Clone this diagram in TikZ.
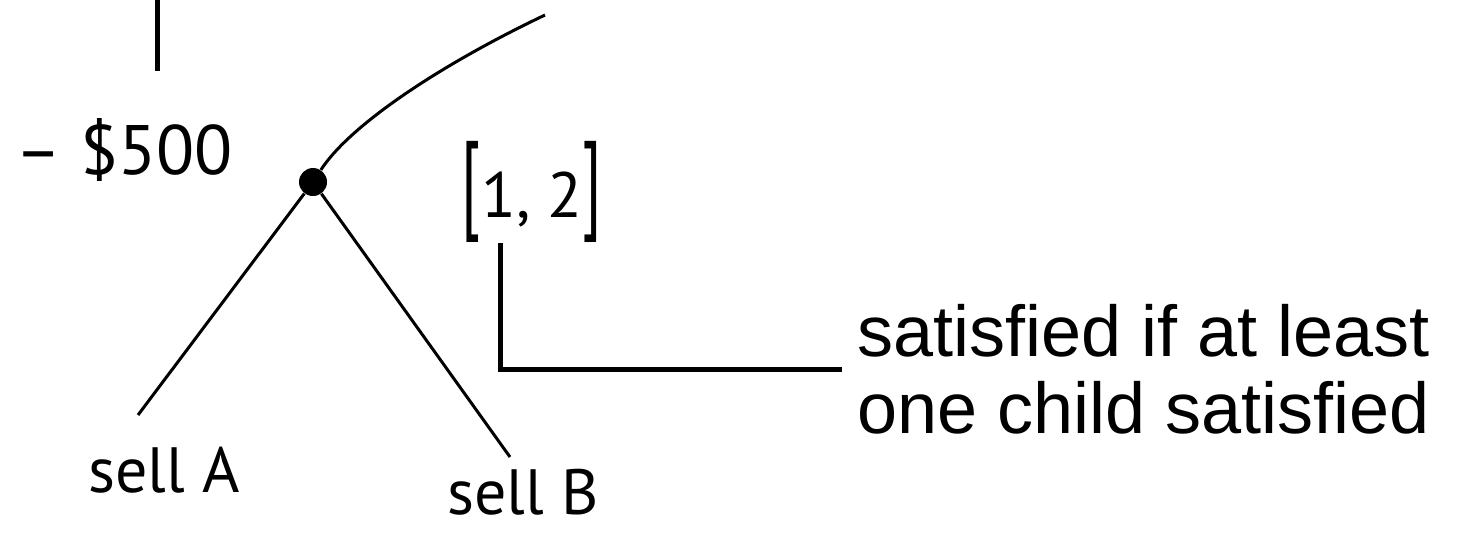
\documentclass[tikz,border=0pt]{standalone}
\usepackage{fontspec}
\setmainfont{Liberation Sans}
\newfontfamily\handfont{PT Sans}
\usepackage{tikz}
\usetikzlibrary{calc,positioning}
\tikzset{
  br/.style={line width=1.5pt,black},
  ln/.style={line width=2.5pt,black},
  dt/.style={circle,fill=black,minimum size=14pt,inner sep=0pt},
  hw/.style={font=\handfont\fontsize{32}{36}\selectfont,inner sep=0pt},
  nt/.style={font=\fontsize{36}{38.5}\selectfont,align=left,inner xsep=7.5pt,inner ysep=0pt}
}

\begin{document}
\begin{tikzpicture}[x=0.5pt,y=-0.5pt]
\useasboundingbox (0,0) rectangle (1460,532);
% stub from above
\coordinate (T1) at (157,0); \coordinate (T2) at (157,71);
\draw[ln] (T1)--(T2);
\node[hw,font=\handfont\fontsize{35}{38}\selectfont] (cost) at (124,150) {– \$500};
% or-node and its edges
\node[dt] (or) at (313,182) {};
\coordinate (up) at (545,15);
\coordinate (eA) at (138,415); \coordinate (eB) at (510,457);
\draw[br] (or) .. controls (350,125) and (440,65) .. (up);
\draw[br] (or)--(eA);
\draw[br] (or)--(eB);
\node[hw] (sA) at (164,470) {sell A};
\node[hw] (sB) at (523,492) {sell B};
\node[hw] (rng) at (532,192) {\scalebox{1}[1.7]{[}1, 2\scalebox{1}[1.7]{]}};
% note
\node[nt,anchor=west] (txt) at (842,369) {satisfied if at least\\one child satisfied};
\coordinate (kn) at (500,369);
\draw[ln] (rng.south -| kn)--(kn)--(txt.west);
\end{tikzpicture}
\end{document}
